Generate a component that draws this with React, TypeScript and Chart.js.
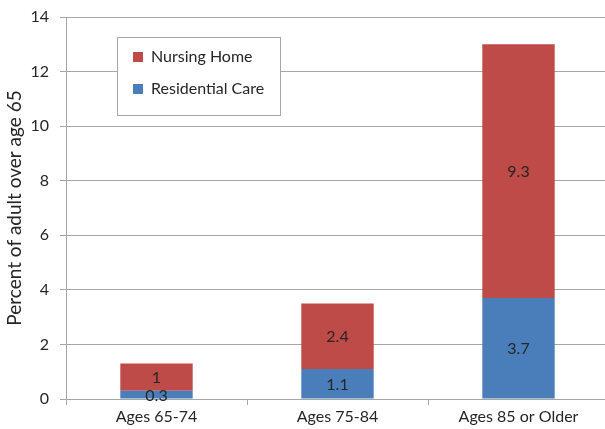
import React, { useEffect, useRef } from "react";
import { Chart, registerables } from "chart.js";

Chart.register(...registerables);

const categories = ["Ages 65-74", "Ages 75-84", "Ages 85 or Older"];
const residentialCare = [0.3, 1.1, 3.7];
const nursingHome = [1, 2.4, 9.3];
const seriesNames = ["Residential Care", "Nursing Home"];
const seriesColors = ["#4A7EBB", "#BE4B48"];
const yTitle = "Percent of adult over age 65";

const FONT = "Lato, 'Open Sans', sans-serif";
const TEXT = "#262626";
const GRID = "#A6A6A6";

// Writes each segment's value at the middle of the segment.
const segmentLabels = {
  id: "segmentLabels",
  afterDatasetsDraw(chart: any) {
    const { ctx } = chart;
    ctx.save();
    ctx.font = `16px ${FONT}`;
    ctx.fillStyle = TEXT;
    ctx.textAlign = "center";
    ctx.textBaseline = "middle";
    chart.data.datasets.forEach((ds: any, di: number) => {
      const meta = chart.getDatasetMeta(di);
      meta.data.forEach((el: any, i: number) => {
        const v = ds.data[i];
        ctx.fillText(String(v), el.x, (el.y + el.base) / 2 + 1);
      });
    });
    ctx.restore();
  },
};

// Boxed legend inside the plot area, top series listed first.
const boxedLegend = {
  id: "boxedLegend",
  afterDraw(chart: any) {
    const { ctx } = chart;
    const x = 117.5, y = 37.5, w = 163, h = 78;
    ctx.save();
    ctx.fillStyle = "#FFFFFF";
    ctx.strokeStyle = GRID;
    ctx.lineWidth = 1;
    ctx.fillRect(x, y, w, h);
    ctx.strokeRect(x, y, w, h);
    const items = chart.data.datasets.slice().reverse();
    ctx.font = `16px ${FONT}`;
    ctx.textBaseline = "middle";
    ctx.textAlign = "left";
    items.forEach((ds: any, i: number) => {
      const cy = 57 + i * 32;
      ctx.fillStyle = ds.backgroundColor;
      ctx.fillRect(133, cy - 5, 10, 10);
      ctx.fillStyle = TEXT;
      ctx.fillText(ds.label, 151, cy);
    });
    ctx.restore();
  },
};

export default function App() {
  const ref = useRef<HTMLCanvasElement>(null);

  useEffect(() => {
    if (!ref.current) return;
    const chart = new Chart(ref.current, {
      type: "bar",
      data: {
        labels: categories,
        datasets: [
          {
            label: seriesNames[0],
            data: residentialCare,
            backgroundColor: seriesColors[0],
            barPercentage: 0.4,
            categoryPercentage: 1,
          },
          {
            label: seriesNames[1],
            data: nursingHome,
            backgroundColor: seriesColors[1],
            barPercentage: 0.4,
            categoryPercentage: 1,
          },
        ],
      },
      options: {
        animation: false,
        responsive: true,
        maintainAspectRatio: false,
        layout: { padding: { top: 17, right: 0, left: 0, bottom: 0 } },
        plugins: {
          legend: { display: false },
          tooltip: { enabled: false },
        },
        scales: {
          x: {
            stacked: true,
            offset: true,
            grid: {
              display: true,
              drawOnChartArea: false,
              offset: true,
              tickLength: 6,
              color: GRID,
            },
            border: { color: GRID },
            ticks: {
              color: TEXT,
              font: { family: FONT, size: 16 },
              padding: 2,
            },
            afterFit(scale: any) {
              scale.height = 30;
              scale.paddingLeft = 0;
              scale.paddingRight = 0;
            },
          },
          y: {
            stacked: true,
            min: 0,
            max: 14,
            ticks: {
              stepSize: 2,
              color: TEXT,
              font: { family: FONT, size: 16 },
              padding: 11,
            },
            grid: { color: GRID, tickLength: 6 },
            border: { color: GRID },
            title: {
              display: true,
              text: yTitle,
              color: TEXT,
              font: { family: FONT, size: 19 },
              padding: { top: 3, bottom: 4 },
            },
            afterFit(scale: any) {
              scale.width = 66;
              scale.paddingTop = 0;
              scale.paddingBottom = 0;
            },
          },
        },
      },
      plugins: [segmentLabels, boxedLegend],
    });
    return () => chart.destroy();
  }, []);

  return (
    <div
      style={{
        position: "absolute",
        left: 0,
        top: 0,
        width: 605,
        height: 429,
        overflow: "hidden",
        background: "#FFFFFF",
      }}
    >
      <div style={{ position: "relative", width: 609, height: 429 }}>
        <canvas ref={ref} />
      </div>
    </div>
  );
}
